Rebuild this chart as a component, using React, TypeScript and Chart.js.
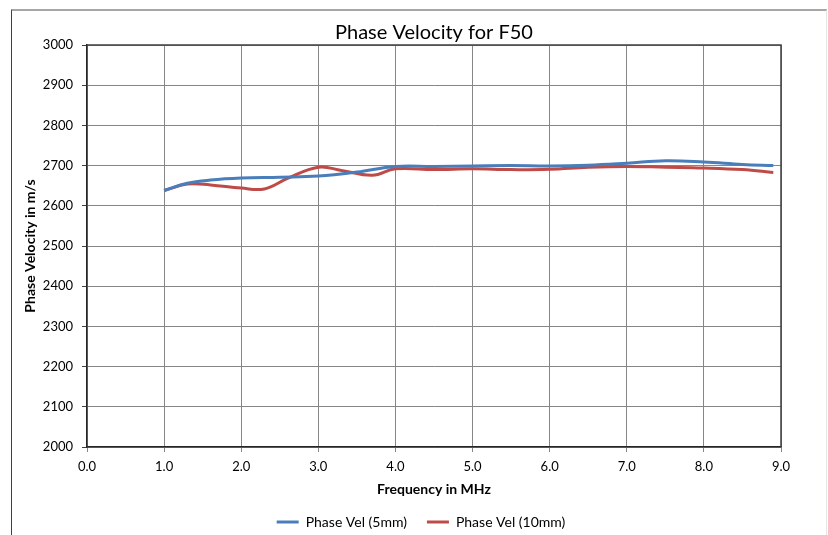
import React, { useEffect, useRef } from "react";
import { Chart, registerables } from "chart.js";

Chart.register(...registerables);

const title = "Phase Velocity for F50";
const xTitle = "Frequency in MHz";
const yTitle = "Phase Velocity in m/s";
const series5Label = "Phase Vel (5mm)";
const series10Label = "Phase Vel (10mm)";

const freq5 = [1.0, 1.3, 1.6, 2.0, 2.5, 3.0, 3.5, 4.0, 4.5, 5.0, 5.5, 6.0, 6.5, 7.0, 7.5, 8.0, 8.5, 8.9];
const vel5 = [2638, 2656, 2664, 2669, 2671, 2674, 2684, 2698, 2698, 2699, 2700, 2699, 2701, 2706, 2712, 2709, 2703, 2700];

const freq10 = [1.0, 1.3, 1.6, 2.0, 2.3, 2.6, 3.0, 3.3, 3.7, 4.0, 4.5, 5.0, 5.5, 6.0, 6.5, 7.0, 7.5, 8.0, 8.5, 8.9];
const vel10 = [2638, 2654, 2652, 2644, 2642, 2668, 2696, 2688, 2676, 2692, 2690, 2692, 2690, 2691, 2696, 2698, 2696, 2694, 2690, 2683];

const FONT = "Lato, 'Open Sans', sans-serif";

export default function App() {
  const ref = useRef<HTMLCanvasElement | null>(null);

  useEffect(() => {
    if (!ref.current) return;
    const frame = {
      id: "plotFrame",
      beforeDatasetsDraw(chart: any) {
        const { ctx, chartArea: a } = chart;
        ctx.save();
        ctx.strokeStyle = "#404040";
        ctx.lineWidth = 1.5;
        ctx.beginPath();
        ctx.moveTo(a.left, a.top);
        ctx.lineTo(a.right, a.top);
        ctx.lineTo(a.right, a.bottom);
        ctx.stroke();
        ctx.restore();
      },
    };
    const defaultLabels = Chart.defaults.plugins.legend.labels.generateLabels;
    const chart = new Chart(ref.current, {
      type: "line",
      data: {
        datasets: [
          {
            label: series5Label,
            data: freq5.map((x, i) => ({ x, y: vel5[i] })),
            borderColor: "#4a7ebb",
            backgroundColor: "#4a7ebb",
            borderWidth: 3,
            pointRadius: 0,
            tension: 0.4,
          },
          {
            label: series10Label,
            data: freq10.map((x, i) => ({ x, y: vel10[i] })),
            borderColor: "#be4b48",
            backgroundColor: "#be4b48",
            borderWidth: 3,
            pointRadius: 0,
            tension: 0.4,
          },
        ],
      },
      options: {
        animation: false,
        responsive: false,
        layout: { padding: { left: 14, right: 0, top: 0, bottom: -4 } },
        plugins: {
          title: {
            display: true,
            fullSize: false,
            text: title,
            color: "#000",
            font: { family: FONT, size: 20, weight: "normal" },
            padding: { top: 21, bottom: 0 },
          },
          legend: {
            position: "bottom",
            labels: {
              boxWidth: 22,
              boxHeight: 3,
              color: "#000",
              font: { family: FONT, size: 14 },
              padding: 20,
              generateLabels: (c: any) =>
                defaultLabels(c).map((l: any) => ({ ...l, lineWidth: 0 })),
            },
          },
          tooltip: { enabled: false },
        },
        scales: {
          x: {
            type: "linear",
            min: 0,
            max: 9,
            ticks: {
              stepSize: 1,
              color: "#000",
              font: { family: FONT, size: 13 },
              padding: 7,
              callback: (v: any) => Number(v).toFixed(1),
            },
            grid: { color: "#868686", lineWidth: 1, tickLength: 5, tickColor: "#868686" },
            border: { color: "#262626", width: 1.5 },
            title: {
              display: true,
              text: xTitle,
              color: "#000",
              font: { family: FONT, size: 14, weight: "bold" },
              padding: { top: 4, bottom: -3 },
            },
            afterFit: (s: any) => {
              s.height = 48;
            },
          },
          y: {
            min: 2000,
            max: 3000,
            ticks: {
              stepSize: 100,
              color: "#000",
              font: { family: FONT, size: 13 },
              padding: 9,
              callback: (v: any) => String(v),
            },
            grid: { color: "#868686", lineWidth: 1, tickLength: 5, tickColor: "#404040" },
            border: { color: "#262626", width: 1.5 },
            title: {
              display: true,
              text: yTitle,
              color: "#000",
              font: { family: FONT, size: 14, weight: "bold" },
              padding: { top: 8, bottom: 4 },
            },
            afterFit: (s: any) => {
              s.width = 73;
            },
          },
          yRight: {
            position: "right",
            min: 2000,
            max: 3000,
            display: true,
            ticks: { display: false },
            grid: { display: false, drawTicks: false },
            border: { display: false },
            afterFit: (s: any) => {
              s.width = 47;
            },
          },
        },
      },
      plugins: [frame],
    });
    return () => chart.destroy();
  }, []);

  return (
    <div style={{ position: "absolute", left: 0, top: 0, width: 828, height: 535, overflow: "hidden", background: "#fff" }}>
      <canvas ref={ref} width={828} height={535} style={{ position: "absolute", left: 0, top: 0 }} />
      <div
        style={{
          position: "absolute",
          left: 11,
          top: 9,
          width: 814,
          height: 540,
          borderTop: "2px solid #a6a6a6",
          borderLeft: "1px solid #404040",
          borderRight: "1px solid #e6e6e6",
          pointerEvents: "none",
        }}
      />
    </div>
  );
}
